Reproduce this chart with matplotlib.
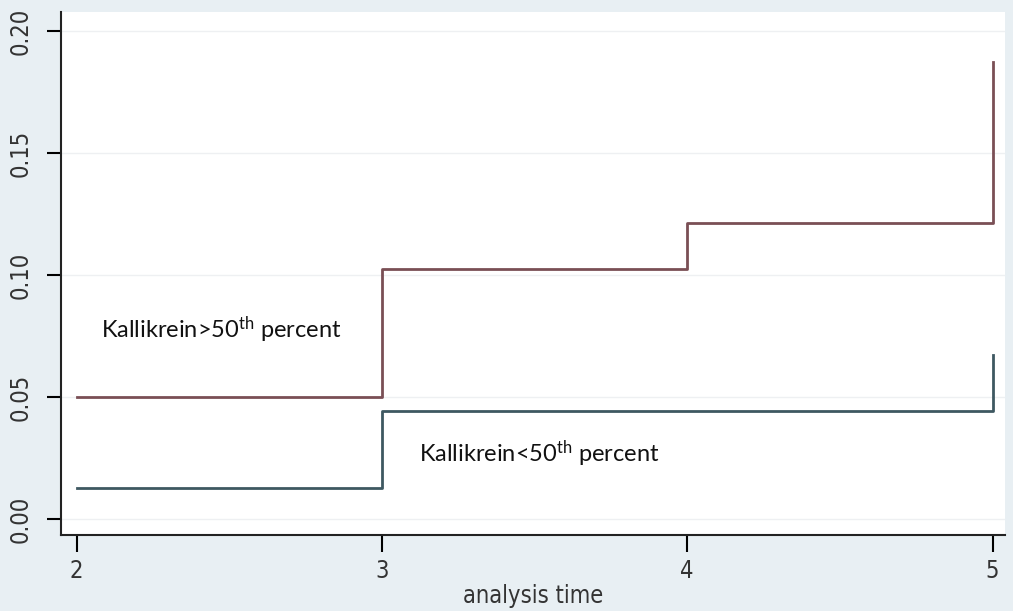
import matplotlib
matplotlib.use("Agg")
import matplotlib.pyplot as plt
from matplotlib import font_manager

# step data
time_hi = [2, 3, 4, 5, 5]
surv_hi = [0.0502, 0.1025, 0.1216, 0.1874, 0.1874]
time_lo = [2, 3, 5, 5]
surv_lo = [0.0130, 0.0444, 0.0673, 0.0673]
yticks = [0.00, 0.05, 0.10, 0.15, 0.20]
ytick_labels = ["0.00", "0.05", "0.10", "0.15", "0.20"]
xticks = [2, 3, 4, 5]
label_hi = "Kallikrein>50$^{th}$ percent"
label_lo = "Kallikrein<50$^{th}$ percent"

# upright condensed face if there is one
cond = [f for f in font_manager.fontManager.ttflist
        if f.fname.endswith("DejaVuSansCondensed.ttf")]
if cond:
    tick_font = font_manager.FontProperties(fname=cond[0].fname)
else:
    tick_font = font_manager.FontProperties(family="Liberation Sans")
tick_font.set_size(17)

plt.rcParams["mathtext.default"] = "regular"

bg = "#e8eff3"
fig = plt.figure(figsize=(10.13, 6.11), dpi=100, facecolor=bg)
ax = fig.add_axes([0.0599, 0.1244, 0.932, 0.856])
ax.set_facecolor("white")

ax.step(time_hi, surv_hi, where="post", color="#7a4f55", lw=2)
ax.step(time_lo, surv_lo, where="post", color="#3e5861", lw=2)

ax.set_xlim(1.948, 5.04)
ax.set_ylim(-0.0064, 0.2079)

ax.set_yticks(yticks)
ax.set_yticklabels(ytick_labels, rotation=90, va="center", fontproperties=tick_font, color="#333333")
ax.set_xticks(xticks)
ax.set_xticklabels([str(t) for t in xticks], fontproperties=tick_font, color="#333333")
ax.tick_params(axis="y", length=10, width=1.5, pad=10)
ax.tick_params(axis="x", length=12, width=1.5, pad=5)
ax.set_xlabel("analysis time", fontproperties=tick_font, color="#333333", labelpad=1)

ax.grid(axis="y", color="#eef0f2", lw=1)
ax.set_axisbelow(True)
for s in ["top", "right"]:
    ax.spines[s].set_visible(False)
for s in ["left", "bottom"]:
    ax.spines[s].set_linewidth(1.5)
    ax.spines[s].set_color("#222222")

ax.text(2.08, 0.0775, label_hi, fontsize=17, family="Lato", color="#111111", va="center")
ax.text(3.12, 0.027, label_lo, fontsize=17, family="Lato", color="#111111", va="center")

fig.savefig("out.png", dpi=100, facecolor=bg)
